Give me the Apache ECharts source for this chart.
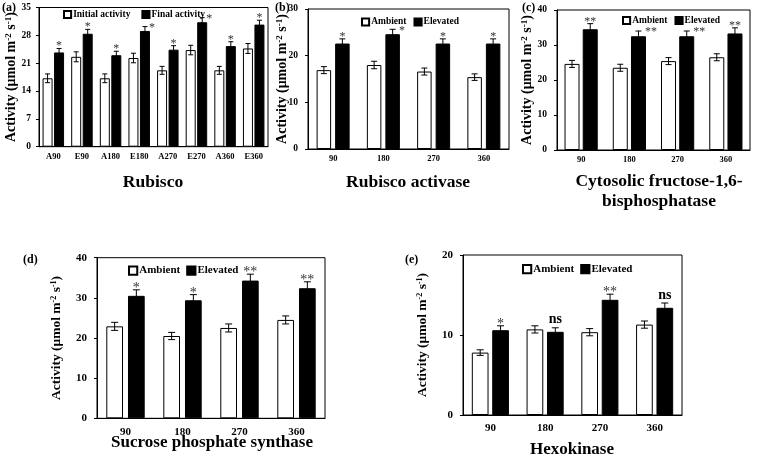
<!DOCTYPE html>
<html><head><meta charset="utf-8">
<script src="https://cdn.jsdelivr.net/npm/echarts/dist/echarts.min.js"></script>
<style>html,body{margin:0;padding:0;background:#fff}#c{width:760px;height:462px}</style>
</head><body><div id="c"></div>
<script>
const FONT = '"Liberation Serif","Times New Roman",serif';

// ---- (a) Rubisco ----
const rubiscoCats = ['A90','E90','A180','E180','A270','E270','A360','E360'];
const rubiscoInitial = [17.2, 22.6, 17.2, 22.3, 19.2, 24.3, 19.2, 24.7];
const rubiscoInitialErr = [1.1, 1.25, 1.1, 1.2, 1.0, 1.2, 1.0, 1.25];
const rubiscoFinal = [23.7, 28.4, 23.0, 29.1, 24.4, 31.3, 25.3, 30.7];
const rubiscoFinalErr = [1.0, 1.1, 1.0, 1.1, 1.0, 1.15, 1.1, 1.1];
const rubiscoSig = ['*','*','*','*','*','*','*','*'];

// ---- shared categories (days) ----
const dayCats = ['90','180','270','360'];

// ---- (b) Rubisco activase ----
const rcaAmbient = [16.9, 18.0, 16.6, 15.4];
const rcaAmbientErr = [0.75, 0.8, 0.75, 0.7];
const rcaElevated = [22.6, 24.6, 22.6, 22.6];
const rcaElevatedErr = [1.0, 1.05, 1.0, 1.0];
const rcaSig = ['*','*','*','*'];

// ---- (c) Cytosolic FBPase ----
const fbpAmbient = [24.6, 23.5, 25.4, 26.5];
const fbpAmbientErr = [1.0, 1.0, 1.0, 1.0];
const fbpElevated = [34.5, 32.5, 32.5, 33.3];
const fbpElevatedErr = [1.6, 1.5, 1.5, 1.6];
const fbpSig = ['**','**','**','**'];

// ---- (d) Sucrose phosphate synthase ----
const spsAmbient = [22.9, 20.5, 22.5, 24.5];
const spsAmbientErr = [1.0, 0.9, 1.0, 1.0];
const spsElevated = [30.5, 29.4, 34.3, 32.4];
const spsElevatedErr = [1.5, 1.4, 1.6, 1.6];
const spsSig = ['*','*','**','**'];

// ---- (e) Hexokinase ----
const hxkAmbient = [7.8, 10.7, 10.35, 11.3];
const hxkAmbientErr = [0.35, 0.45, 0.45, 0.45];
const hxkElevated = [10.6, 10.4, 14.4, 13.4];
const hxkElevatedErr = [0.55, 0.5, 0.7, 0.6];
const hxkSig = ['*','ns','**','ns'];

const panels = [
  {tag:'(a)', title:['Rubisco'], cats:rubiscoCats, names:['Initial activity','Final activity'],
   s0:rubiscoInitial, e0:rubiscoInitialErr, s1:rubiscoFinal, e1:rubiscoFinalErr, sig:rubiscoSig,
   max:35, interval:7, right:[3,5],
   grid:{left:39, top:7.5, width:229, height:139.2}, w:10, g:1.5, cap:2.5,
   legend:{left:63, top:9.5, gap:11}, fs:{x:8.5, y:9.5, name:14, leg:9.5, title:17.5, star:12}, nameGap:21, lm:8, xm:5.5,
   tagPos:[2,9], titlePos:[153,182]},
  {tag:'(b)', title:['Rubisco activase'], cats:dayCats, names:['Ambient','Elevated'],
   s0:rcaAmbient, e0:rcaAmbientErr, s1:rcaElevated, e1:rcaElevatedErr, sig:rcaSig,
   max:30, interval:10, right:[1],
   grid:{left:308, top:9, width:201, height:140}, w:14.5, g:4, cap:3,
   legend:{left:361, top:17, gap:7}, fs:{x:8.5, y:9.5, name:14, leg:9.5, title:17.5, star:12}, nameGap:19, lm:10, xm:5.5,
   tagPos:[275,9], titlePos:[408,182]},
  {tag:'(c)', title:['Cytosolic fructose-1,6-','bisphosphatase'], cats:dayCats, names:['Ambient','Elevated'],
   s0:fbpAmbient, e0:fbpAmbientErr, s1:fbpElevated, e1:fbpElevatedErr, sig:fbpSig,
   max:40, interval:10, right:[1,2],
   grid:{left:557, top:10, width:193, height:140}, w:15, g:3.2, cap:3,
   legend:{left:622, top:15.5, gap:7}, fs:{x:8.5, y:9.5, name:14, leg:9.5, title:17.5, star:12}, nameGap:23, lm:10, xm:5.5,
   tagPos:[522,9], titlePos:[659,181]},
  {tag:'(d)', title:['Sucrose phosphate synthase'], cats:dayCats, names:['Ambient','Elevated'],
   s0:spsAmbient, e0:spsAmbientErr, s1:spsElevated, e1:spsElevatedErr, sig:spsSig,
   max:40, interval:10, right:[],
   grid:{left:97, top:257.7, width:228, height:160.6}, w:16.7, g:5, cap:3.5,
   legend:{left:128, top:265, gap:6}, fs:{x:11, y:11, name:13.5, leg:11, title:17, star:14}, nameGap:33, lm:10, xm:8,
   tagPos:[23,261], titlePos:[212,443]},
  {tag:'(e)', title:['Hexokinase'], cats:dayCats, names:['Ambient','Elevated'],
   s0:hxkAmbient, e0:hxkAmbientErr, s1:hxkElevated, e1:hxkElevatedErr, sig:hxkSig,
   max:20, interval:10, right:[],
   grid:{left:463, top:255, width:219, height:160}, w:16.7, g:3.7, cap:3.5,
   legend:{left:522, top:263.5, gap:6}, fs:{x:11, y:11, name:13.5, leg:11, title:17, star:14}, nameGap:33, lm:10, xm:7.5,
   tagPos:[405,261], titlePos:[572,450]}
];

const grid = [], xAxis = [], yAxis = [], series = [], legend = [], graphic = [];

function errorSeries(pi, p, side, vals, errs, sigs) {
  const off = side * (p.w + p.g) / 2;
  return {
    type:'custom', xAxisIndex:pi, yAxisIndex:pi, silent:true, z:5,
    encode:{x:0, y:1},
    data: vals.map((v, i) => [i, v, errs[i]]),
    renderItem: function (params, api) {
      const i = api.value(0), v = api.value(1), e = api.value(2);
      const c = api.coord([i, v]);
      const t = api.coord([i, v + e]);
      const b = api.coord([i, v - e]);
      const x = c[0] + off;
      const st = {stroke:'#000', lineWidth:1};
      const children = [
        {type:'line', shape:{x1:x, y1:t[1], x2:x, y2:b[1]}, style:st},
        {type:'line', shape:{x1:x - p.cap, y1:t[1], x2:x + p.cap, y2:t[1]}, style:st},
        {type:'line', shape:{x1:x - p.cap, y1:b[1], x2:x + p.cap, y2:b[1]}, style:st}
      ];
      if (sigs) {
        const s = sigs[i];
        const isNs = s === 'ns';
        const right = p.right.indexOf(i) >= 0;
        const fs = p.fs.star;
        let y;
        if (isNs) y = t[1] - 1;
        else y = t[1] - (right ? 1.5 : 5) + 0.73 * fs;
        children.push({type:'text', style:{
          text:s,
          x: right ? x + p.w / 2 - 1 : x,
          y: y,
          textAlign: right ? 'left' : 'center',
          textVerticalAlign:'bottom',
          fontFamily:FONT,
          fontSize: fs,
          fontWeight: isNs ? 'bold' : 'normal',
          fill: isNs ? '#000' : '#333'
        }});
      }
      return {type:'group', children};
    }
  };
}

panels.forEach((p, pi) => {
  grid.push(Object.assign({show:true, borderColor:'#000', borderWidth:1, backgroundColor:'transparent'}, p.grid));
  xAxis.push({
    type:'category', gridIndex:pi, data:p.cats,
    axisLine:{lineStyle:{color:'#000', width:1}},
    axisTick:{inside:true, length:3, lineStyle:{color:'#000'}},
    axisLabel:{color:'#000', fontFamily:FONT, fontWeight:'bold', fontSize:p.fs.x, margin:p.xm, interval:0},
    splitLine:{show:false}
  });
  yAxis.push({
    type:'value', gridIndex:pi, min:0, max:p.max, interval:p.interval,
    axisLine:{show:true, lineStyle:{color:'#000', width:1}},
    axisTick:{show:true, length:3, lineStyle:{color:'#000'}},
    axisLabel:{color:'#000', fontFamily:FONT, fontWeight:'bold', fontSize:p.fs.y, margin:p.lm},
    splitLine:{show:false},
    name:'Activity (μmol m{sup|-2} s{sup|-1})',
    nameLocation:'middle', nameGap:p.nameGap, nameRotate:90, nameMoveOverlap:false,
    nameTextStyle:{color:'#000', fontFamily:FONT, fontWeight:'bold', fontSize:p.fs.name,
      rich:{sup:{color:'#000', fontFamily:FONT, fontWeight:'bold', fontSize:Math.round(p.fs.name*0.62), verticalAlign:'top', lineHeight:p.fs.name}}}
  });
  series.push({
    type:'bar', name:p.names[0], xAxisIndex:pi, yAxisIndex:pi, data:p.s0,
    barWidth:p.w, barGap:(p.g / p.w * 100).toFixed(1) + '%',
    itemStyle:{color:'#fff', borderColor:'#000', borderWidth:1}, silent:true
  });
  series.push({
    type:'bar', name:p.names[1], xAxisIndex:pi, yAxisIndex:pi, data:p.s1,
    barWidth:p.w, barGap:(p.g / p.w * 100).toFixed(1) + '%',
    itemStyle:{color:'#000', borderColor:'#000', borderWidth:1}, silent:true
  });
  series.push(errorSeries(pi, p, -1, p.s0, p.e0, null));
  series.push(errorSeries(pi, p, 1, p.s1, p.e1, p.sig));
  legend.push({
    left:p.legend.left, top:p.legend.top, orient:'horizontal', data:p.names,
    icon:'rect', itemWidth:p.fs.leg * 0.75, itemHeight:p.fs.leg * 0.75, itemGap:p.legend.gap,
    selectedMode:false, padding:0,
    textStyle:{color:'#000', fontFamily:FONT, fontWeight:'bold', fontSize:p.fs.leg, padding:[0,0,0,-3]}
  });
  graphic.push({type:'text', left:p.tagPos[0], top:p.tagPos[1] - 7, style:{text:p.tag, fontFamily:FONT, fontWeight:'bold', fontSize:12, fill:'#000'}});
  p.title.forEach((t, k) => {
    graphic.push({type:'text', x:p.titlePos[0], y:p.titlePos[1] + k * 20,
      style:{text:t, fontFamily:FONT, fontWeight:'bold', fontSize:p.fs.title, fill:'#000', textAlign:'center', textVerticalAlign:'middle'}});
  });
});

const chart = echarts.init(document.getElementById('c'), null, {renderer:'canvas'});
chart.setOption({backgroundColor:'#fff', animation:false, grid, xAxis, yAxis, series, legend, graphic});
</script>
</body></html>
